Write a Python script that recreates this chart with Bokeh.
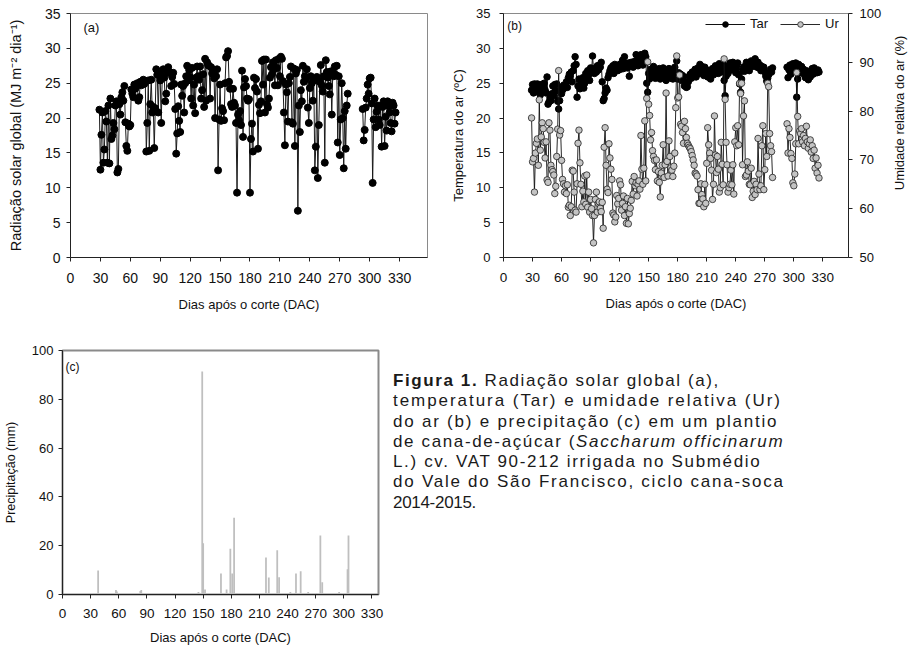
import math
from bokeh.plotting import figure
from bokeh.models import (Range1d, LinearAxis, Label, Legend, LegendItem,
                          FixedTicker, Div)
from bokeh.layouts import row, column
from bokeh.embed import file_html
from bokeh.resources import INLINE

FONT = "Liberation Sans"

# ---------------- data ----------------
days_1 = list(range(29, 279))   # first measurement period (DAC)
days_2 = list(range(293, 327))  # second measurement period (DAC)

# (a) global solar radiation, MJ m-2 dia-1
rad_1 = [
    21.2, 12.6, 17.6, 20.8, 13.6, 15.5, 21.0, 19.5, 13.6, 21.8,
    13.5, 22.8, 17.0, 17.5, 19.3, 18.4, 21.8, 22.4, 12.2, 12.7,
    22.0, 20.5, 23.0, 23.7, 22.5, 24.6, 19.4, 16.0, 15.3, 19.2,
    18.8, 19.0, 24.1, 23.5, 23.0, 24.8, 24.2, 24.6, 25.0, 22.5,
    23.0, 25.2, 24.7, 25.0, 25.5, 24.9, 25.3, 15.2, 19.3, 25.4,
    15.3, 22.0, 25.5, 20.8, 21.6, 15.7, 21.4, 27.0, 26.2, 20.8,
    26.3, 25.4, 19.3, 26.0, 27.0, 25.8, 22.4, 23.5, 26.8, 27.3,
    26.5, 26.5, 24.6, 25.9, 26.5, 24.9, 21.3, 14.9, 17.8, 21.7,
    19.6, 18.0, 24.8, 23.2, 24.6, 20.8, 25.0, 26.0, 27.5, 25.4,
    26.9, 25.9, 22.8, 27.2, 21.8, 24.8, 20.7, 25.8, 27.4, 26.0,
    25.5, 27.4, 22.8, 24.0, 26.3, 21.6, 28.5, 22.5, 28.0, 27.6,
    27.5, 22.8, 27.3, 26.4, 26.9, 25.7, 20.0, 26.0, 27.0, 12.5,
    19.8, 24.8, 19.6, 21.4, 21.0, 19.7, 25.0, 28.7, 28.9, 29.6,
    25.2, 24.2, 22.0, 21.6, 24.2, 22.2, 21.8, 19.3, 9.3, 20.5,
    19.7, 21.0, 19.0, 26.8, 17.3, 24.4, 25.6, 24.6, 22.8, 22.5,
    22.7, 9.3, 17.0, 19.2, 15.2, 25.8, 24.3, 25.6, 23.8, 15.6,
    21.9, 20.7, 22.4, 28.2, 24.8, 28.4, 20.8, 28.4, 22.0, 21.5,
    22.8, 25.8, 27.3, 26.3, 28.0, 27.0, 24.7, 28.3, 27.2, 24.7,
    28.5, 26.0, 28.8, 28.5, 25.3, 20.8, 16.1, 24.8, 23.7, 19.5,
    25.0, 25.9, 27.4, 19.4, 19.2, 27.1, 16.0, 26.4, 26.9, 6.7,
    21.8, 18.0, 24.0, 22.4, 27.5, 25.2, 26.0, 25.6, 27.0, 21.5,
    19.3, 24.3, 26.0, 25.0, 22.5, 25.4, 12.5, 15.9, 25.9, 11.4,
    19.0, 25.2, 27.6, 24.7, 23.8, 26.0, 13.6, 28.3, 26.6, 25.8,
    24.6, 23.4, 26.7, 20.5, 26.5, 26.0, 27.4, 26.2, 27.5, 16.5,
    26.0, 14.7, 19.8, 25.0, 20.0, 12.8, 21.0, 15.6, 21.8, 23.5,
]
rad_2 = [
    21.3, 16.8, 18.3, 21.5, 22.8, 24.8, 23.5, 25.7, 25.8, 22.1,
    10.7, 19.8, 22.8, 18.7, 20.9, 21.8, 19.8, 19.0, 21.7, 15.9,
    21.6, 22.4, 16.0, 20.2, 18.2, 22.4, 21.7, 20.8, 19.3, 18.1,
    22.2, 21.8, 19.2, 20.8,
]

# (b) air temperature, ºC
tar_1 = [
    24.0, 24.8, 23.6, 24.9, 24.2, 23.8, 24.9, 24.1, 24.6, 23.3,
    24.8, 23.9, 24.5, 25.0, 24.0, 23.6, 25.9, 22.0, 22.3, 22.9,
    22.5, 23.5, 24.6, 23.2, 24.8, 23.9, 24.9, 22.4, 21.3, 22.5,
    24.2, 23.5, 24.0, 24.7, 24.3, 24.7, 25.2, 24.4, 25.8, 26.3,
    26.0, 26.6, 25.2, 26.8, 27.5, 28.8, 27.7, 23.0, 24.6, 25.6,
    24.2, 25.2, 24.6, 25.8, 24.3, 25.0, 26.4, 25.5, 26.8, 26.2,
    25.4, 27.2, 26.6, 28.9, 27.0, 26.4, 27.1, 26.6, 27.5, 26.9,
    27.6, 27.3, 28.0, 25.2, 22.5, 22.8, 23.6, 24.3, 24.0, 25.8,
    26.3, 26.8, 27.2, 27.0, 27.5, 26.4, 27.7, 27.2, 27.5, 26.8,
    27.3, 27.7, 27.0, 27.6, 28.3, 27.1, 28.8, 27.4, 27.8, 27.2,
    27.9, 26.0, 27.5, 28.0, 27.6, 27.3, 28.1, 27.8, 29.1, 28.2,
    27.5, 28.6, 27.9, 29.1, 28.2, 27.6, 28.4, 29.3, 28.8, 25.0,
    23.7, 26.4, 25.6, 27.0, 26.8, 26.3, 27.4, 26.5, 25.7, 26.6,
    26.8, 26.2, 27.1, 25.6, 26.6, 26.1, 27.2, 25.9, 26.8, 25.4,
    26.6, 26.0, 27.1, 26.8, 25.7, 26.4, 25.6, 26.4, 27.3, 26.0,
    28.2, 25.6, 26.5, 25.8, 26.3, 25.4, 26.1, 25.9, 24.6, 25.0,
    24.4, 24.5, 25.2, 26.0, 26.3, 25.7, 26.6, 25.9, 26.4, 27.0,
    25.9, 26.5, 27.2, 26.4, 27.7, 27.0, 27.4, 26.6, 26.1, 27.3,
    27.0, 26.5, 25.9, 26.3, 26.8, 25.6, 26.5, 27.1, 26.2, 26.9,
    27.5, 26.8, 27.3, 26.4, 27.8, 27.0, 26.6, 27.2, 27.7, 25.4,
    23.2, 26.0, 27.0, 26.4, 27.5, 27.9, 26.9, 27.4, 28.0, 27.3,
    27.8, 26.5, 27.2, 27.9, 26.2, 24.9, 23.7, 25.6, 26.8, 27.3,
    26.7, 27.5, 28.0, 27.2, 27.6, 26.8, 27.9, 28.2, 27.4, 28.1,
    27.5, 28.5, 27.9, 27.3, 28.0, 27.2, 27.6, 26.8, 27.4, 26.9,
    27.3, 26.6, 26.0, 25.3, 25.7, 26.2, 26.5, 27.0, 26.6, 27.2,
]
tar_2 = [
    27.3, 25.8, 26.9, 27.6, 26.3, 27.3, 27.8, 27.1, 27.6, 27.9,
    23.0, 25.6, 27.7, 27.2, 26.5, 27.4, 26.8, 27.0, 26.2, 25.8,
    26.8, 26.0, 25.5, 26.5, 25.9, 26.7, 27.1, 26.3, 27.2, 26.5,
    26.8, 26.5, 26.9, 26.6,
]

# (b) relative humidity, %
ur_1 = [
    78.6, 69.6, 70.3, 63.4, 71.4, 73.4, 74.3, 68.9, 82.3, 72.0,
    74.7, 77.6, 76.4, 73.6, 70.4, 73.7, 65.9, 65.4, 77.6, 76.1,
    68.9, 68.0, 67.6, 66.9, 63.1, 64.6, 70.7, 76.3, 88.3, 75.1,
    76.0, 69.9, 66.0, 65.1, 63.4, 64.7, 63.1, 64.9, 60.3, 60.7,
    58.6, 60.4, 67.9, 67.7, 63.4, 59.7, 59.3, 65.1, 73.4, 76.1,
    69.4, 65.0, 60.4, 63.6, 61.4, 66.7, 60.9, 66.9, 60.3, 63.4,
    59.3, 61.9, 60.0, 58.6, 53.0, 58.6, 61.9, 63.4, 59.3, 61.1,
    61.4, 60.1, 59.4, 61.3, 56.0, 72.6, 76.6, 68.9, 64.0, 63.3,
    73.3, 70.4, 68.1, 66.0, 59.1, 58.7, 57.3, 58.3, 62.7, 61.0,
    62.1, 65.7, 64.9, 59.7, 61.1, 62.6, 58.6, 60.4, 57.0, 62.1,
    56.9, 59.0, 60.1, 61.7, 65.6, 63.0, 66.6, 64.7, 65.3, 62.6,
    65.0, 65.7, 64.0, 75.0, 68.1, 65.0, 68.3, 78.0, 65.7, 82.6,
    90.1, 81.4, 79.1, 74.1, 75.6, 71.9, 70.7, 69.9, 68.0, 70.0,
    65.7, 67.6, 65.4, 62.4, 67.3, 68.9, 73.1, 66.4, 69.0, 83.7,
    69.7, 66.7, 73.9, 70.7, 68.4, 67.9, 66.6, 68.7, 71.4, 80.7,
    91.3, 82.7, 82.9, 87.4, 77.3, 76.9, 75.6, 73.4, 77.9, 76.4,
    74.6, 73.4, 73.0, 72.6, 72.3, 71.7, 70.9, 70.0, 68.9, 67.3,
    67.1, 66.7, 63.9, 61.1, 61.1, 65.1, 62.9, 62.0, 60.4, 65.0,
    61.1, 69.3, 76.6, 73.1, 71.4, 70.3, 67.9, 61.9, 65.0, 79.0,
    71.0, 67.4, 70.7, 68.1, 63.4, 64.3, 73.6, 69.1, 64.9, 90.7,
    82.4, 73.6, 69.0, 63.4, 64.3, 65.0, 67.9, 64.9, 69.0, 63.0,
    73.7, 76.6, 72.9, 77.0, 73.1, 85.7, 83.6, 85.7, 69.0, 79.0,
    82.1, 66.6, 66.9, 69.6, 67.7, 65.0, 64.9, 68.3, 62.3, 63.6,
    65.6, 62.9, 65.0, 63.9, 74.4, 67.1, 63.9, 64.7, 72.9, 77.0,
    63.9, 68.0, 75.4, 70.7, 85.7, 85.0, 75.4, 72.9, 71.7, 66.4,
]
ur_2 = [
    77.4, 71.4, 76.4, 74.6, 71.3, 70.3, 65.3, 64.7, 67.1, 73.3,
    87.9, 78.9, 73.3, 75.9, 75.4, 76.4, 73.7, 75.0, 72.9, 74.4,
    76.9, 73.7, 72.4, 73.3, 74.1, 71.6, 72.9, 70.3, 72.0, 68.3,
    70.4, 67.3, 68.9, 66.3,
]

# (c) precipitation, mm
rain_days = [38, 57, 58, 83, 84, 145, 149, 150, 152, 169, 175, 179, 181, 183,
             186, 217, 220, 229, 231, 243, 248, 249, 254, 262, 271, 275, 277,
             295, 297, 304, 305]
rain_mm = [9.8, 1.8, 1.2, 1.4, 1.8, 1.0, 91.4, 21.0, 2.0, 8.6, 2.0, 18.8, 8.6,
           31.5, 0.6, 15.2, 7.0, 18.1, 7.1, 1.0, 0.6, 8.6, 9.5, 1.0, 0.6, 24.2,
           5.0, 1.0, 0.6, 10.3, 24.2]

x_ticks = [0, 30, 60, 90, 120, 150, 180, 210, 240, 270, 300, 330]
rad_ticks = [0, 5, 10, 15, 20, 25, 30, 35]
tar_ticks = [0, 5, 10, 15, 20, 25, 30, 35]
ur_ticks = [50, 60, 70, 80, 90, 100]
rain_ticks = [0, 20, 40, 60, 80, 100]

NAN = float("nan")
x_all = days_1 + [NAN] + days_2
rad_all = rad_1 + [NAN] + rad_2
tar_all = tar_1 + [NAN] + tar_2
ur_all = ur_1 + [NAN] + ur_2


def style_axis(ax, tick_size, standoff, lab_size, lab_standoff, color="#222222"):
    ax.axis_line_color = color
    ax.axis_line_width = 1
    ax.major_tick_line_color = color
    ax.major_tick_out = 4
    ax.major_tick_in = 0
    ax.minor_tick_line_color = None
    ax.major_label_text_font = FONT
    ax.major_label_text_font_size = tick_size
    ax.major_label_text_color = "#111111"
    ax.major_label_standoff = standoff
    ax.axis_label_text_font = FONT
    ax.axis_label_text_font_style = "normal"
    ax.axis_label_text_font_size = lab_size
    ax.axis_label_text_color = "#111111"
    ax.axis_label_standoff = lab_standoff


def base(width, height, xr, yr, bl, br, bt, bb):
    p = figure(width=width, height=height, x_range=xr, y_range=yr,
               output_backend="svg", toolbar_location=None,
               min_border_left=bl, min_border_right=br,
               min_border_top=bt, min_border_bottom=bb)
    p.xgrid.visible = False
    p.ygrid.visible = False
    p.outline_line_color = "#8a8a8a"
    p.outline_line_width = 1
    p.background_fill_color = "white"
    p.border_fill_color = "white"
    return p


# ---------------- panel (a) ----------------
pa = base(440, 330, Range1d(0, 358), Range1d(0, 35), 70, 13, 13, 61)
pa.line(x_all, rad_all, line_color="#1a1a1a", line_width=1)
pa.scatter(x_all, rad_all, marker="circle", size=7, fill_color="black",
           line_color="black")
pa.xaxis.ticker = FixedTicker(ticks=x_ticks)
pa.yaxis.ticker = FixedTicker(ticks=rad_ticks)
pa.xaxis.axis_label = "Dias após o corte (DAC)"
pa.yaxis.axis_label = "Radiação solar global (MJ m⁻² dia⁻¹)"
style_axis(pa.xaxis[0], "14px", 11, "13px", 11)
style_axis(pa.yaxis[0], "14px", 6, "14.5px", 18)
pa.add_layout(Label(x=13, y=33.0, text="(a)", text_font=FONT,
                    text_font_size="13px", text_baseline="middle",
                    text_color="#111111"))

# ---------------- panel (b) ----------------
pb = base(450, 330, Range1d(0, 356.5), Range1d(0, 35), 63, 42, 12, 73)
pb.extra_y_ranges = {"ur": Range1d(50, 100)}
r_tl = pb.line(x_all, tar_all, line_color="#111111", line_width=1)
r_ts = pb.scatter(x_all, tar_all, marker="circle", size=6.5,
                  fill_color="black", line_color="black")
r_ul = pb.line(x_all, ur_all, line_color="#111111", line_width=0.9,
               y_range_name="ur")
r_us = pb.scatter(x_all, ur_all, marker="circle", size=6.5,
                  fill_color="#c4c4c4", line_color="#222222", line_width=0.8,
                  y_range_name="ur")
pb.xaxis.ticker = FixedTicker(ticks=x_ticks)
pb.yaxis.ticker = FixedTicker(ticks=tar_ticks)
pb.xaxis.axis_label = "Dias após o corte (DAC)"
pb.yaxis.axis_label = "Temperatura do ar (ºC)"
style_axis(pb.xaxis[0], "13.5px", 11, "13px", 11)
style_axis(pb.yaxis[0], "13px", 9, "13px", 7)
ax_r = LinearAxis(y_range_name="ur", ticker=FixedTicker(ticks=ur_ticks))
style_axis(ax_r, "13px", 7, "13px", 10)
pb.add_layout(ax_r, "right")
pb.add_layout(Label(x=4, y=33.2, text="(b)", text_font=FONT,
                    text_font_size="12px", text_baseline="middle",
                    text_color="#111111"))
legend = Legend(items=[LegendItem(label="Tar", renderers=[r_tl, r_ts]),
                       LegendItem(label="Ur", renderers=[r_ul, r_us])],
                location="top_right", orientation="horizontal",
                border_line_color=None, background_fill_alpha=0,
                glyph_width=40, glyph_height=14, label_height=14,
                label_standoff=5, spacing=10, padding=2, margin=3,
                label_text_font=FONT, label_text_font_size="13px",
                label_text_color="#111111")
pb.add_layout(legend)

# narrow strip holding the right-hand axis title (reads bottom-to-top)
pr = figure(width=20, height=330, x_range=Range1d(0, 20),
            y_range=Range1d(0, 330), output_backend="svg",
            toolbar_location=None, x_axis_type=None, y_axis_type=None,
            min_border_left=0, min_border_right=0, min_border_top=0,
            min_border_bottom=0)
pr.xgrid.visible = False
pr.ygrid.visible = False
pr.outline_line_color = None
pr.add_layout(Label(x=9, y=195.5, text="Umidade relativa do ar (%)",
                    angle=math.pi / 2, text_align="center",
                    text_baseline="middle", text_font=FONT,
                    text_font_size="13px", text_color="#111111"))

# ---------------- panel (c) ----------------
pc = base(388, 318, Range1d(0, 337), Range1d(0, 100), 60, 10, 20, 54)
pc.outline_line_width = 2
pc.vbar(x=rain_days, top=rain_mm, width=1.9, fill_color="#bfbfbf",
        line_color=None)
pc.xaxis.ticker = FixedTicker(ticks=x_ticks)
pc.yaxis.ticker = FixedTicker(ticks=rain_ticks)
pc.xaxis.axis_label = "Dias após o corte (DAC)"
pc.yaxis.axis_label = "Precipitação (mm)"
style_axis(pc.xaxis[0], "13.5px", 10, "13px", 9)
style_axis(pc.yaxis[0], "13px", 5, "12.5px", 11)
pc.add_layout(Label(x=3.2, y=93.4, text="(c)", text_font=FONT,
                    text_font_size="12px", text_baseline="middle",
                    text_color="#111111"))

# ---------------- caption ----------------
caption_html = (
    '<span style="letter-spacing:1.6px"><b>Figura 1.</b> Radiação solar global (a),</span><br>'
    '<span style="letter-spacing:1.95px">temperatura (Tar) e umidade relativa (Ur)</span><br>'
    '<span style="letter-spacing:1.77px">do ar (b) e precipitação (c) em um plantio</span><br>'
    '<span style="letter-spacing:1.63px">de cana-de-açúcar (<i>Saccharum officinarum</i></span><br>'
    '<span style="letter-spacing:1.65px">L.) cv. VAT 90-212 irrigada no Submédio</span><br>'
    '<span style="letter-spacing:1.75px">do Vale do São Francisco, ciclo cana-soca</span><br>'
    '<span style="letter-spacing:-0.3px">2014-2015.</span>'
)
cap = Div(text=caption_html, width=522, height=318,
          styles={"font-family": FONT, "font-size": "17px",
                  "line-height": "20.3px",
                  "color": "#1a1a1a", "padding-left": "0px",
                  "padding-top": "36px", "white-space": "nowrap",
                  "box-sizing": "border-box"})

layout = column(row(pa, pb, pr), row(pc, cap))
open("out.html", "w").write(file_html(layout, INLINE))
